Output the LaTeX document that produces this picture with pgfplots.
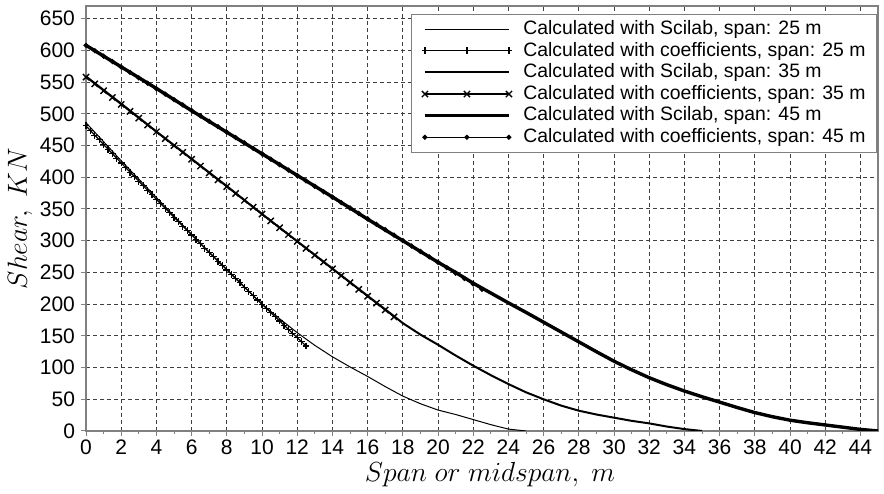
\RequirePackage{fix-cm}
\documentclass[border=0pt]{standalone}
\usepackage{fontspec}
\setmainfont{Liberation Sans}
\usepackage{pgfplots}
\usepackage{pgfplotstable}
\pgfplotsset{compat=1.18}

% Scilab results
\pgfplotstableread{
x y
0 486
1 456
2 426
3 397
4 368
5 339
6 310
7 282
8 255
9 227
10 200
11 177
12 155
13 135
14 117
15 101
16 86
17 70
18 55
19 43
20 33
21 26
22 18
23 10
24 3
25 0
}\scilabA
\pgfplotstableread{
x y
0 559
2 516
4 472
6 429
8 386
10 342
12 299
14 256
16 213
17.5 181
18 170
19 152
20 136
21 119
22 103
23 88
24 74
25 61
26 50
27 40
28 32
29 26
30 21
31 16
32 12
33 7
34 3
35 0
}\scilabB
\pgfplotstableread{
x y
0 608
2 574
4 540
6 505
8 471
10 437
12 403
14 369
16 334
18 300
20 266
21 250
22 233
23 217.5
24 202
25 187
26 171.5
27 156
28 140.5
29 125
30 110
31 96.5
32 84
33 73
34 63
35 54
36 45.5
37 37
38 29
39 22.5
40 17
41 13
42 9.5
43 6
44 2.5
45 0
}\scilabC

% coefficients
\pgfplotstableread{
x y
0 481.0
0.25 473.6
0.5 466.3
0.75 459.0
1 451.6
1.25 444.3
1.5 437.1
1.75 429.8
2 422.6
2.25 415.3
2.5 408.1
2.75 400.9
3 393.8
3.25 386.6
3.5 379.5
3.75 372.3
4 365.2
4.25 358.1
4.5 351.1
4.75 344.0
5 337.0
5.25 330.0
5.5 323.0
5.75 316.0
6 309.0
6.25 302.1
6.5 295.1
6.75 288.2
7 281.3
7.25 274.5
7.5 267.6
7.75 260.8
8 253.9
8.25 247.1
8.5 240.3
8.75 233.6
9 226.8
9.25 220.1
9.5 213.3
9.75 206.6
10 200.0
10.25 193.3
10.5 186.6
10.75 180.0
11 173.4
11.25 166.8
11.5 160.2
11.75 153.6
12 147.1
12.25 140.6
12.5 134.0
}\coefA
\pgfplotstableread{
x y
0 558
0.5 547.2
1 536.4
1.5 525.6
2 514.8
2.5 504
3 493.2
3.5 482.4
4 471.6
4.5 460.8
5 450
5.5 439.2
6 428.4
6.5 417.6
7 406.8
7.5 396
8 385.2
8.5 374.4
9 363.6
9.5 352.8
10 342
10.5 331.2
11 320.4
11.5 309.6
12 298.8
12.5 288
13 277.2
13.5 266.4
14 255.6
14.5 244.8
15 234
15.5 223.2
16 212.4
16.5 201.6
17 190.8
17.5 180
}\coefB
\pgfplotstableread{
x y
0 608
0.5 599.45
1 590.9
1.5 582.35
2 573.8
2.5 565.25
3 556.7
3.5 548.15
4 539.6
4.5 531.05
5 522.5
5.5 513.95
6 505.4
6.5 496.85
7 488.3
7.5 479.75
8 471.2
8.5 462.65
9 454.1
9.5 445.55
10 437
10.5 428.45
11 419.9
11.5 411.35
12 402.8
12.5 394.25
13 385.7
13.5 377.15
14 368.6
14.5 360.05
15 351.5
15.5 342.95
16 334.4
16.5 325.85
17 317.3
17.5 308.75
18 300.2
18.5 291.65
19 283.1
19.5 274.55
20 266
20.5 257.45
21 248.9
21.5 240.35
22 231.8
22.5 223.25
}\coefC

\begin{document}
\begin{tikzpicture}
\begin{axis}[
    scale only axis,
    width=396pt, height=212.5pt,
    xmin=0, xmax=45, ymin=0, ymax=670,
    xtick={0,2,...,44}, ytick={0,50,...,650},
    minor x tick num=1,
    tick align=outside, xtick pos=bottom, ytick pos=left,
    major tick length=2.5pt, minor tick length=1.5pt,
    tick style={gray, line width=0.5pt},
    axis line style={gray, line width=0.8pt},
    grid=major,
    major grid style={black!75, line width=0.5pt, dash pattern=on 2pt off 1.5pt},
    /pgf/number format/assume math mode=true,
    ticklabel style={font=\fontsize{10.5}{12}\selectfont},
    xticklabel style={yshift=1.5pt},
    yticklabel style={xshift=0.5pt},
    xlabel={$Span\ or\ midspan,\ m$},
    ylabel={$Shear,\ KN$},
    label style={font=\fontsize{13.8}{16}\selectfont},
    xlabel style={yshift=3pt, xshift=4pt},
    ylabel style={yshift=-3pt},
    legend cell align=left,
    legend style={at={(1,1)}, anchor=north east, xshift=-0.5pt, yshift=-4pt,
        draw=gray, line width=0.5pt, fill=white,
        font=\fontsize{9.7}{12}\selectfont,
        inner xsep=5pt, inner ysep=2pt, row sep=0pt, column sep=5pt,
        nodes={inner sep=0.5pt, text height=7.5pt, text depth=2.3pt}},
    legend image code/.code={\draw[mark repeat=1,#1] plot coordinates {(0pt,0pt) (21pt,0pt) (42pt,0pt)};},
]
\addplot[black, line width=0.5pt] table {\scilabA};
\addlegendentry{Calculated with Scilab, span: 25 m}
\addplot[black, line width=0.6pt, mark=+, mark size=1.7pt, mark options={line width=0.6pt}] table {\coefA};
\addlegendentry{Calculated with coefficients, span: 25 m}
\addplot[black, line width=1pt] table {\scilabB};
\addlegendentry{Calculated with Scilab, span: 35 m}
\addplot[black, line width=0.7pt, mark=x, mark size=2.2pt, mark options={line width=0.7pt}] table {\coefB};
\addlegendentry{Calculated with coefficients, span: 35 m}
\addplot[black, line width=1.7pt] table {\scilabC};
\addlegendentry{Calculated with Scilab, span: 45 m}
\addplot[black, line width=0.7pt, mark=*, mark size=0.9pt] table {\coefC};
\addlegendentry{Calculated with coefficients, span: 45 m}
\coordinate (ll) at (rel axis cs:0,0);
\coordinate (ur) at (rel axis cs:1,1);
\end{axis}
\path ([shift={(-43pt,-30.5pt)}]ll) rectangle ([shift={(3pt,3pt)}]ur);
\end{tikzpicture}
\end{document}
